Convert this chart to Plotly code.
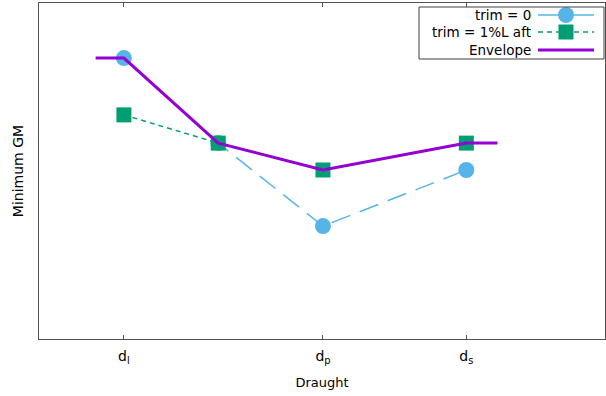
import plotly.graph_objects as go

# Draught positions (m) and minimum GM values (normalised)
draught_trim0 = [2.9, 3.9, 5.01, 6.53]
gm_trim0 = [0.836, 0.583, 0.336, 0.503]

draught_trim1 = [2.9, 3.9, 5.01, 6.53]
gm_trim1 = [0.667, 0.583, 0.503, 0.583]

draught_env = [2.6, 2.9, 3.9, 5.01, 6.53, 6.86]
gm_env = [0.836, 0.836, 0.583, 0.503, 0.583, 0.583]

tick_vals = [2.9, 5.01, 6.53]
tick_text = ["d<sub>l</sub>", "d<sub>p</sub>", "d<sub>s</sub>"]

series_names = ["trim = 0", "trim = 1%L aft", "Envelope"]

C_BLUE = "#56B4E9"
C_GREEN = "#009E73"
C_VIOLET = "#9400D3"
FONT = "DejaVu Sans"
AXIS_COL = "#505050"

fig = go.Figure()

fig.add_trace(go.Scatter(
    x=draught_trim0, y=gm_trim0, mode="lines+markers", name=series_names[0],
    line=dict(color=C_BLUE, width=1.5, dash="20px,10px"),
    marker=dict(symbol="circle", size=16, color=C_BLUE, line=dict(width=0)),
    showlegend=False,
))
fig.add_trace(go.Scatter(
    x=draught_trim1, y=gm_trim1, mode="lines+markers", name=series_names[1],
    line=dict(color=C_GREEN, width=1.5, dash="5px,4px"),
    marker=dict(symbol="square", size=15, color=C_GREEN, line=dict(width=0)),
    showlegend=False,
))
fig.add_trace(go.Scatter(
    x=draught_env, y=gm_env, mode="lines", name=series_names[2],
    line=dict(color=C_VIOLET, width=3),
    showlegend=False,
))

# Key in the top-right corner: text right-aligned, sample to its right
key_rows = [12, 29, 47]
key_x0, key_x1 = 499, 555
key_styles = [
    dict(line=dict(color=C_BLUE, width=1.5), marker=dict(symbol="circle", size=16, color=C_BLUE)),
    dict(line=dict(color=C_GREEN, width=1.5, dash="5px,4px"), marker=dict(symbol="square", size=15, color=C_GREEN)),
    dict(line=dict(color=C_VIOLET, width=3), marker=None),
]
for name, ry, st in zip(series_names, key_rows, key_styles):
    fig.add_trace(go.Scatter(
        x=[key_x0, key_x1], y=[ry, ry], mode="lines", line=st["line"],
        xaxis="x2", yaxis="y2", showlegend=False, hoverinfo="skip",
    ))
    if st["marker"] is not None:
        fig.add_trace(go.Scatter(
            x=[(key_x0 + key_x1) / 2], y=[ry], mode="markers", marker=st["marker"],
            xaxis="x2", yaxis="y2", showlegend=False, hoverinfo="skip",
        ))
    fig.add_annotation(
        x=494, y=ry, xref="x2", yref="y2", text=name, showarrow=False,
        xanchor="right", yanchor="middle", font=dict(family=FONT, size=13.5, color="#000"),
    )

fig.add_shape(type="rect", xref="x2", yref="y2", x0=380, x1=565, y0=4, y1=56,
              line=dict(color="#404040", width=1), fillcolor="rgba(0,0,0,0)")

fig.update_layout(
    width=606, height=396,
    margin=dict(l=39, r=1, t=3, b=57),
    paper_bgcolor="white", plot_bgcolor="white",
    font=dict(family=FONT, size=12, color="#000"),
    xaxis=dict(
        range=[2, 8], tickmode="array", tickvals=tick_vals, ticktext=tick_text,
        ticks="inside", ticklen=4, tickcolor=AXIS_COL, showline=True, linecolor=AXIS_COL,
        linewidth=1, mirror="ticks", showgrid=False, zeroline=False,
        ticklabelstandoff=4,
        title=dict(text="Draught", standoff=13, font=dict(size=13)), tickfont=dict(size=14),
    ),
    yaxis=dict(
        range=[0, 1], showticklabels=False, ticks="", showline=True, linecolor=AXIS_COL,
        linewidth=1, mirror=True, showgrid=False, zeroline=False,
        title=dict(text="Minimum GM", standoff=11, font=dict(size=14)),
    ),
    xaxis2=dict(range=[0, 566], overlaying="x", visible=False, fixedrange=True),
    yaxis2=dict(range=[336, 0], overlaying="y", visible=False, fixedrange=True),
)

fig.write_html("out.html")
